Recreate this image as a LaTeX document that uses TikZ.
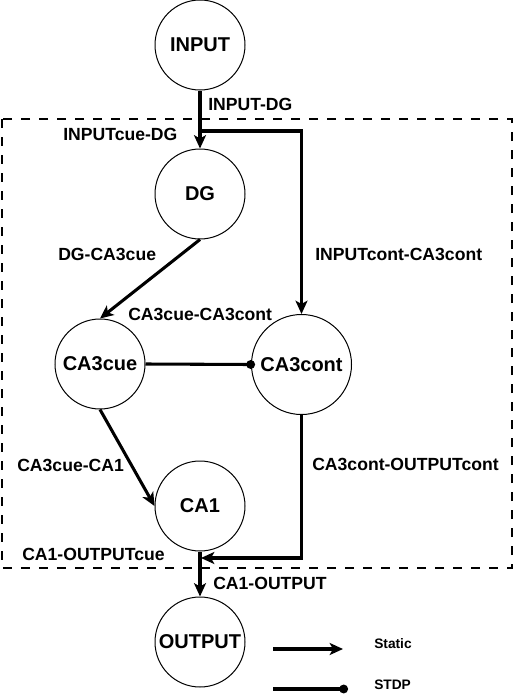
\documentclass[tikz,border=0pt]{standalone}
\usepackage{fontspec}
\setmainfont{Liberation Sans}
\usetikzlibrary{arrows.meta}

\tikzset{
    neuron/.style={circle, draw=black, line width=0.75pt, inner sep=0pt,
                   minimum size=67.5pt, font=\fontsize{15pt}{18pt}\selectfont\bfseries},
    lbl/.style={anchor=west, inner sep=0pt, font=\fontsize{13.2pt}{15pt}\selectfont\bfseries},
    legendlbl/.style={anchor=west, inner sep=0pt, font=\fontsize{10.3pt}{12pt}\selectfont\bfseries},
    staticedge/.style={line width=2.3pt, -{Stealth[length=10pt, width=9pt, inset=2.5pt]}},
    stdpedge/.style={line width=2.3pt, -{Circle[length=6.5pt]}},
    regionbox/.style={line width=2pt, dash pattern=on 6.4pt off 7.1pt}
}

\begin{document}
\begin{tikzpicture}[x=0.75pt, y=-0.75pt]
        \useasboundingbox (0, 0) rectangle (515, 700);

        % Region:
        \draw[regionbox] (2, 119) rectangle (512, 568);

        % Neurons:
        \node[neuron] (input) at (200, 45) {INPUT};
        \node[neuron] (dg) at (200, 194) {DG};
        \node[neuron] (ca3cue) at (100, 364) {CA3cue};
        \node[neuron, minimum size=75pt] (ca3cont) at (301.5, 364.5) {CA3cont};
        \node[neuron] (ca1) at (200, 506) {CA1};
        \node[neuron] (output) at (200, 642) {OUTPUT};

        % Junctions:
        \coordinate (split) at (200, 131);
        \coordinate (merge) at (201, 558);

        % Connections:
        \draw[staticedge] (input) -- (dg);
        \draw[staticedge] (split) -| (ca3cont);
        \draw[staticedge] (dg.south) -- (ca3cue.north);
        \draw[stdpedge, shorten >=-3pt] (ca3cue.east) -- (ca3cont.west);
        \draw[staticedge] (ca3cue.south) -- (ca1.west);
        \draw[staticedge] (ca3cont.south) |- (merge);
        \draw[staticedge] (ca1) -- (output);

        % Labels:
        \node[lbl] (linputdg) at (208, 104) {INPUT-DG};
        \node[lbl] (linputcue) at (63, 134) {INPUTcue-DG};
        \node[lbl] (ldgca3) at (58, 254) {DG-CA3cue};
        \node[lbl] (linputcont) at (315, 254) {INPUTcont-CA3cont};
        \node[lbl] (lca3ca3) at (128, 314) {CA3cue-CA3cont};
        \node[lbl] (lca3ca1) at (17, 465) {CA3cue-CA1};
        \node[lbl] (lca3out) at (312, 464) {CA3cont-OUTPUTcont};
        \node[lbl] (lca1cue) at (22, 554) {CA1-OUTPUTcue};
        \node[lbl] (lca1out) at (213, 583) {CA1-OUTPUT};

        % Legend:
        \coordinate (staticA) at (273, 649);
        \coordinate (staticB) at (343, 649);
        \coordinate (stdpA) at (273, 689);
        \coordinate (stdpB) at (348, 689);
        \draw[staticedge] (staticA) -- (staticB);
        \draw[stdpedge] (stdpA) -- (stdpB);
        \node[legendlbl] (lstatic) at (374, 644) {Static};
        \node[legendlbl] (lstdp) at (374, 685) {STDP};
\end{tikzpicture}
\end{document}
